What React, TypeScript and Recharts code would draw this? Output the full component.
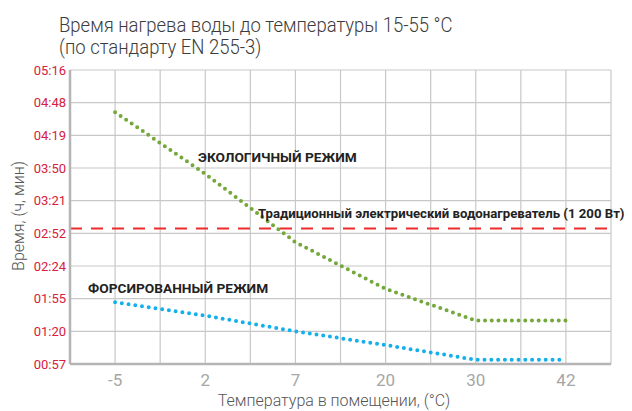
import React from "react";
import {
  LineChart,
  Line,
  XAxis,
  YAxis,
  CartesianGrid,
  ReferenceLine,
  ReferenceDot,
} from "recharts";

// room temperature categories (°C)
const categories = ["-5", "2", "7", "20", "30", "42"];

// y axis is drawn as evenly spaced steps, one per label (index 0 = bottom)
const yTickLabels = ["00:57", "01:20", "01:55", "02:24", "02:52", "03:21", "03:50", "04:19", "04:48", "05:16"];

// heating time, in y-axis steps
const ecoMode = [7.71, 5.82, 3.73, 2.3, 1.33, 1.33];
const forcedMode = [1.89, 1.48, 1.0, 0.58, 0.13, 0.13];
const traditionalHeater = 4.15;

const chartData = categories.map((c, i) => ({ x: i, eco: ecoMode[i], forced: forcedMode[i] }));

const xTicks = Array.from({ length: categories.length * 2 + 1 }, (_, i) => i / 2 - 0.5);
const yTicks = yTickLabels.map((_, i) => i);

const FONT = "Roboto, 'Open Sans', sans-serif";
const annoStyle = { fill: "#222", fontSize: 13.7, fontWeight: 700, fontFamily: FONT };

export default function App() {
  return (
    <div style={{ position: "absolute", left: 0, top: 0, width: 632, height: 411, overflow: "hidden", fontFamily: FONT, background: "#fff" }}>
      <div
        style={{
          position: "absolute",
          left: 59,
          top: 14,
          fontSize: 21,
          fontWeight: 300,
          lineHeight: "22px",
          color: "#3c3c3c",
          whiteSpace: "nowrap",
          transform: "scaleX(0.88)",
          transformOrigin: "left top",
        }}
      >
        Время нагрева воды до температуры 15-55 °C
        <br />
        (по стандарту EN 255-3)
      </div>
      <div
        style={{
          position: "absolute",
          left: 18,
          top: 216,
          transform: "translate(-50%, -50%) rotate(-90deg)",
          fontSize: 16,
          fontWeight: 300,
          color: "#555",
          whiteSpace: "nowrap",
        }}
      >
        Время, (ч, мин)
      </div>
      <div style={{ position: "absolute", left: 334, top: 391, transform: "translateX(-50%)", fontSize: 16, lineHeight: "19px", fontWeight: 300, color: "#555", whiteSpace: "nowrap" }}>
        Температура в помещении, (°С)
      </div>
      <LineChart width={632} height={411} data={chartData} margin={{ top: 70, right: 21, bottom: 0, left: 0 }} style={{ position: "absolute", left: 0, top: 0 }}>
        <CartesianGrid stroke="#c8c8c8" strokeWidth={1.2} />
        <XAxis
          dataKey="x"
          type="number"
          domain={[-0.5, 5.5]}
          ticks={xTicks}
          interval={0}
          height={47}
          tickLine={false}
          tickMargin={4}
          axisLine={{ stroke: "#b5b5b5", strokeWidth: 2.5 }}
          tickFormatter={(v: number) => (Number.isInteger(v) ? categories[v] : "")}
          tick={{ fill: "#a6a6a6", fontSize: 17, fontFamily: FONT }}
        />
        <YAxis
          type="number"
          domain={[0, 9]}
          ticks={yTicks}
          interval={0}
          width={70}
          tickLine={false}
          tickSize={4}
          tickMargin={0}
          axisLine={{ stroke: "#b5b5b5", strokeWidth: 2.5 }}
          tickFormatter={(v: number) => yTickLabels[v]}
          tick={{ fill: "#d6203c", fontSize: 13, fontFamily: FONT }}
        />
        <ReferenceLine y={traditionalHeater} stroke="#ee2b2b" strokeWidth={2} strokeDasharray="12 9" />
        <Line
          dataKey="eco"
          stroke="#74a83a"
          strokeWidth={4}
          strokeDasharray="0 6.7"
          strokeLinecap="round"
          dot={false}
          activeDot={false}
          isAnimationActive={false}
        />
        <Line
          dataKey="forced"
          stroke="#14b0ec"
          strokeWidth={4}
          strokeDasharray="0 6.8"
          strokeLinecap="round"
          dot={false}
          activeDot={false}
          isAnimationActive={false}
        />
        <ReferenceDot x={0.92} y={6.34} r={0} stroke="none" fill="none" label={{ value: "ЭКОЛОГИЧНЫЙ РЕЖИМ", position: "right", offset: 0, ...annoStyle }} />
        <ReferenceDot
          x={1.585}
          y={4.62}
          r={0}
          stroke="none"
          fill="none"
          label={{ value: "Традиционный электрический водонагреватель (1 200 Вт)", position: "right", offset: 0, ...annoStyle, fontSize: 13.2 }}
        />
        <ReferenceDot x={-0.3} y={2.33} r={0} stroke="none" fill="none" label={{ value: "ФОРСИРОВАННЫЙ РЕЖИМ", position: "right", offset: 0, ...annoStyle }} />
      </LineChart>
    </div>
  );
}
